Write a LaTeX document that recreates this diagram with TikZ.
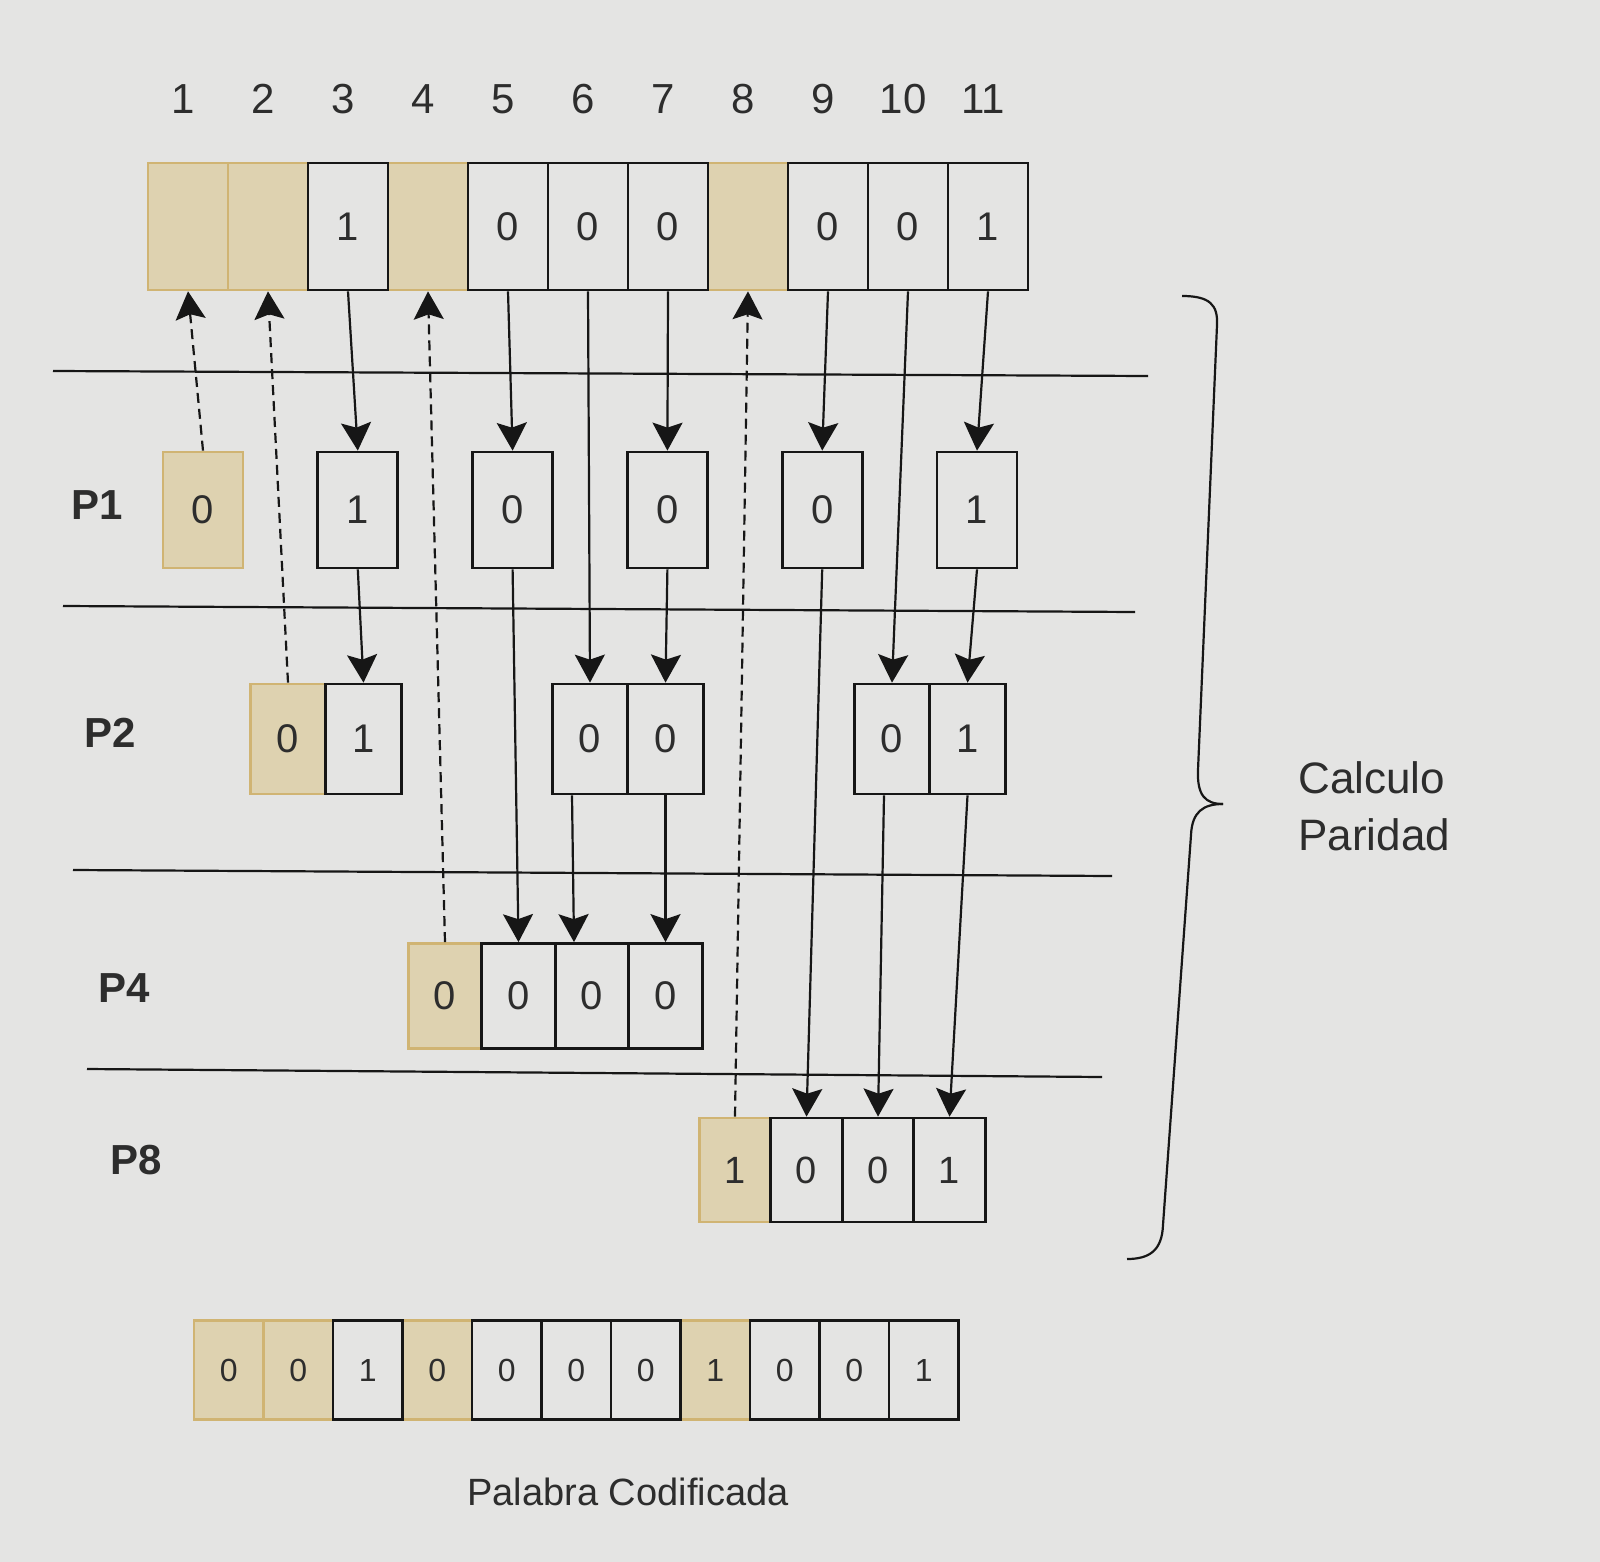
\documentclass[tikz,border=0pt]{standalone}
\usepackage{fontspec}
\setmainfont{Liberation Sans}
\usetikzlibrary{arrows.meta,calc}
\definecolor{bg}{RGB}{228,228,227}
\definecolor{tanfill}{RGB}{222,210,176}
\definecolor{tanline}{RGB}{208,180,115}
\definecolor{ink}{RGB}{22,22,22}
\definecolor{txt}{RGB}{45,45,45}
\begin{document}
\begin{tikzpicture}[x=0.5pt,y=-0.5pt,
  cell/.style={draw=ink, line width=1.35pt, rectangle, inner sep=0pt, text=txt, font=\fontsize{20}{24}\selectfont},
  par/.style={cell, draw=tanline, fill=tanfill},
  tcell/.style={minimum width=40pt, minimum height=63.5pt},
  pone/.style={minimum width=40pt, minimum height=58pt},
  ptwo/.style={minimum width=37.75pt, minimum height=55pt},
  pfour/.style={minimum width=36.75pt, minimum height=52.5pt},
  peight/.style={minimum width=35.75pt, minimum height=52pt, font=\fontsize{19}{23}\selectfont},
  bcell/.style={minimum width=34.75pt, minimum height=49.5pt, font=\fontsize{16}{19}\selectfont},
  numlbl/.style={text=txt, font=\fontsize{21}{25}\selectfont, inner sep=0pt},
  plbl/.style={text=txt, font=\bfseries\fontsize{21}{25}\selectfont, inner sep=0pt},
  arr/.style={draw=ink, line width=1.1pt, -{Stealth[length=14pt,width=15pt,inset=2.5pt]}},
  darr/.style={arr, dash pattern=on 5pt off 3pt},
  hline/.style={draw=ink, line width=1.1pt},
  bracestyle/.style={draw=ink, line width=1.1pt}]

\fill[bg] (0,0) rectangle (1600,1562);
\useasboundingbox (0,0) rectangle (1600,1562);

% column numbers
\foreach \i in {1,...,11} \node[numlbl] (n\i) at ({103+80*\i},99) {\i};

% top row
\foreach \i in {1,2,4,8} \node[par,tcell] (t\i) at ({108+80*\i},226.5) {};
\foreach \i/\v in {3/1,5/0,6/0,7/0,9/0,10/0,11/1} \node[cell,tcell] (t\i) at ({108+80*\i},226.5) {\v};

% separators
\draw[hline] (53,371) -- (1148,376);
\draw[hline] (63,606) -- (1135,612);
\draw[hline] (73,870) -- (1112,876);
\draw[hline] (87,1069) -- (1102,1077);

% row labels
\node[plbl] (lp1) at (97,505) {P1};
\node[plbl] (lp2) at (110,733) {P2};
\node[plbl] (lp4) at (124,988) {P4};
\node[plbl] (lp8) at (136,1160) {P8};

% P1 row
\node[par,pone] (p1c1) at (203,510) {0};
\foreach \i/\v in {3/1,5/0,7/0,9/0,11/1} \node[cell,pone] (p1c\i) at ({203+77.4*(\i-1)},510) {\v};

% P2 row
\node[par,ptwo] (p2c2) at (288,739) {0};
\foreach \i/\v in {3/1,6/0,7/0,10/0,11/1} \node[cell,ptwo] (p2c\i) at ({288+75.5*(\i-2)},739) {\v};

% P4 row
\node[par,pfour] (p4c4) at (445,996) {0};
\foreach \i/\v in {5/0,6/0,7/0} \node[cell,pfour] (p4c\i) at ({445+73.5*(\i-4)},996) {\v};

% P8 row
\node[par,peight] (p8c8) at (735,1170) {1};
\foreach \i/\v in {9/0,10/0,11/1} \node[cell,peight] (p8c\i) at ({735+71.5*(\i-8)},1170) {\v};

% solid arrows (data bits)
\draw[arr] (t3.south) -- (p1c3.north);
\draw[arr] (p1c3.south) -- (p2c3.north);
\draw[arr] (t5.south) -- (p1c5.north);
\draw[arr] (p1c5.south) -- (p4c5.north);
\draw[arr] (t6.south) -- (p2c6.north);
\draw[arr] ($(p2c6.south)+(-18,0)$) -- ($(p4c6.north)+(-18,0)$);
\draw[arr] (t7.south) -- (p1c7.north);
\draw[arr] (p1c7.south) -- (p2c7.north);
\draw[arr] (p2c7.south) -- (p4c7.north);
\draw[arr] (t9.south) -- (p1c9.north);
\draw[arr] (p1c9.south) -- (p8c9.north);
\draw[arr] (t10.south) -- (p2c10.north);
\draw[arr] ($(p2c10.south)+(-8,0)$) -- (p8c10.north);
\draw[arr] (t11.south) -- (p1c11.north);
\draw[arr] (p1c11.south) -- (p2c11.north);
\draw[arr] (p2c11.south) -- (p8c11.north);

% dashed arrows (parity bits)
\draw[darr] (p1c1.north) -- (t1.south);
\draw[darr] (p2c2.north) -- (t2.south);
\draw[darr] (p4c4.north) -- (t4.south);
\draw[darr] (p8c8.north) -- (t8.south);

% brace
\draw[bracestyle] (1182,296) .. controls (1210,296) and (1218,305) .. (1217,325) -- (1198,770) .. controls (1197,795) and (1205,804) .. (1223,804);
\draw[bracestyle] (1223,804) .. controls (1203,804) and (1192,812) .. (1191,835) -- (1163,1225) .. controls (1162,1250) and (1150,1259) .. (1127,1259);
\node[anchor=west, align=left, text=txt, font=\fontsize{22}{28.5}\selectfont, inner sep=0pt] (calc) at (1298,806) {Calculo\\Paridad};

% coded word
\foreach \i/\v in {1/0,2/0,4/0,8/1} \node[par,bcell] (b\i) at ({159.25+69.5*\i},1370) {\v};
\foreach \i/\v in {3/1,5/0,6/0,7/0,9/0,10/0,11/1} \node[cell,bcell] (b\i) at ({159.25+69.5*\i},1370) {\v};
\node[text=txt, font=\fontsize{19}{23}\selectfont, inner sep=0pt] (pc) at (628,1492) {Palabra Codificada};
\end{tikzpicture}
\end{document}
